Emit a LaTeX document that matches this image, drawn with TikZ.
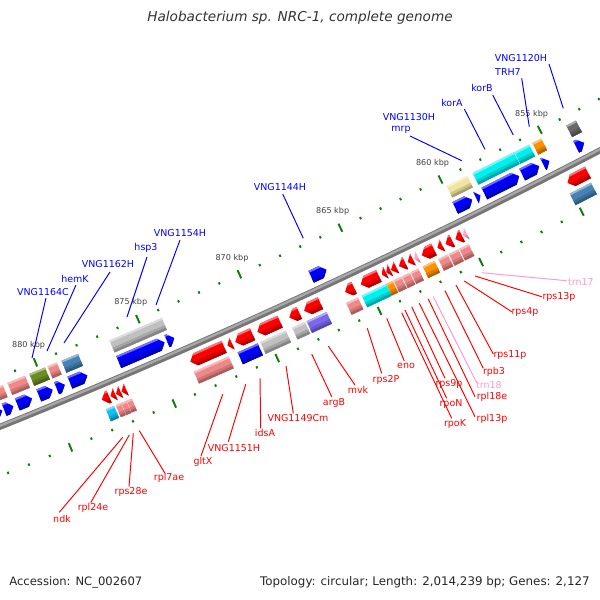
\documentclass[tikz,border=0pt]{standalone}
\usepackage{fontspec}
\setmainfont{DejaVu Sans}[ItalicFont={DejaVu Sans Oblique}]
\definecolor{gblue}{HTML}{0000FF}
\definecolor{gred}{HTML}{FF0000}
\definecolor{cogJ}{HTML}{F08888}
\definecolor{gcyan}{HTML}{00F0F0}
\definecolor{gorange}{HTML}{FF9000}
\definecolor{gsteel}{HTML}{4682B4}
\definecolor{golive}{HTML}{6B8E23}
\definecolor{glgray}{HTML}{C0C0C0}
\definecolor{gdgray}{HTML}{696969}
\definecolor{gkhaki}{HTML}{EEE6A0}
\definecolor{gpurple}{HTML}{7B68EE}
\definecolor{gdsky}{HTML}{10C0F0}
\definecolor{trnpink}{HTML}{FFA8C8}
\definecolor{labblue}{HTML}{0000FF}
\definecolor{labred}{HTML}{FF0000}
\definecolor{labpink}{HTML}{FF99CC}
\definecolor{tickc}{HTML}{107C10}
\definecolor{bbdark}{HTML}{767676}
\definecolor{bblight}{HTML}{A8A8A8}
\definecolor{kbpc}{HTML}{404040}

% place a feature: #1 x centre (image px), #2 offset from backbone (+ = lower right), #3 code
\newcommand\gplace[3]{%
  \pgfmathsetmacro\gR{6818+#2}%
  \pgfmathsetmacro\gA{-acos((#1+2546)/\gR)}%
  \begin{scope}[shift={(-2546,-5898)},rotate=\gA,shift={(\gR,0)},rotate=90]#3\end{scope}}
\newcommand\gpaint[2]{%
  \fill[#1] #2;
  \begin{scope}
    \clip #2;
    \fill[#1!55!white] (-200,-6.5) rectangle (200,-4.6);
    \fill[#1!86!black] (-200,1.2) rectangle (200,3.8);
    \fill[#1!70!black] (-200,3.8) rectangle (200,6.5);
  \end{scope}}
\newcommand\gbox[4]{\gplace{#1}{#2}{\pgfmathsetmacro\gH{#3/2}%
  \gpaint{#4}{(-\gH,-6.5) rectangle (\gH,6.5)}}}
\newcommand\gfwd[4]{\gplace{#1}{#2}{\pgfmathsetmacro\gH{#3/2}%
  \pgfmathsetmacro\gB{max(#3/2-6,-#3/2)}%
  \gpaint{#4}{(-\gH,-6.5) -- (\gB,-6.5) -- (\gH,0) -- (\gB,6.5) -- (-\gH,6.5) -- cycle}}}
\newcommand\grev[4]{\gplace{#1}{#2}{\pgfmathsetmacro\gH{#3/2}%
  \pgfmathsetmacro\gB{min(-#3/2+6,#3/2)}%
  \gpaint{#4}{(\gH,-6.5) -- (\gB,-6.5) -- (-\gH,0) -- (\gB,6.5) -- (\gH,6.5) -- cycle}}}

\tikzset{
  lb/.style={font=\fontsize{5.4pt}{6pt}\selectfont, text=labblue, inner sep=0pt},
  lr/.style={font=\fontsize{5.4pt}{6pt}\selectfont, text=labred, inner sep=0pt},
  lp/.style={font=\fontsize{5.4pt}{6pt}\selectfont, text=labpink, inner sep=0pt},
  ldb/.style={draw=labblue, line width=0.55pt},
  ldr/.style={draw=labred, line width=0.55pt},
  ldp/.style={draw=labpink, line width=0.55pt},
  kbp/.style={font=\fontsize{4.6pt}{5pt}\selectfont, text=kbpc, inner sep=0pt},
  tickmark/.style={draw=tickc, line width=1.1pt},
}

\begin{document}
\begin{tikzpicture}[x=0.02cm,y=-0.02cm]
\useasboundingbox (0,0) rectangle (600,600);
\fill[white] (0,0) rectangle (600,600);

\begin{scope}
\clip (0,0) rectangle (600,600);
% backbone
\draw[line width=3.5pt, bbdark] ([shift={(-2546,-5898)}]61.5:6818) arc[start angle=61.5, end angle=69, radius=6818];
\draw[line width=1.3pt, bblight] ([shift={(-2546,-5898)}]61.5:6817) arc[start angle=61.5, end angle=69, radius=6817];

% tick rows
\foreach \k in {845,...,890}{%
  \pgfmathsetmacro\ta{65.71+(\k-870)*0.188}%
  \pgfmathtruncatemacro\mj{(mod(\k,5)==0)?1:0}%
  \ifnum\mj=1 \def\tl{4.5}\else\def\tl{1.2}\fi
  \pgfmathsetmacro\ua{6772-\tl}\pgfmathsetmacro\ub{6772+\tl}%
  \pgfmathsetmacro\la{6864-\tl}\pgfmathsetmacro\lbb{6864+\tl}%
  \draw[tickmark] ([shift={(-2546,-5898)}]\ta:\ua) -- ([shift={(-2546,-5898)}]\ta:\ub);
  \draw[tickmark] ([shift={(-2546,-5898)}]\ta:\la) -- ([shift={(-2546,-5898)}]\ta:\lbb);
}
\foreach \k in {855,860,...,880}{%
  \pgfmathsetmacro\ta{65.71+(\k-870)*0.188}%
  \node[kbp] (kb\k) at ([shift={(-2546,-5898)}]\ta:6754) {\k\ kbp};
}

% upper arrow ring (forward, blue)
\gfwd{-4}{-14}{14}{gblue}
\gfwd{9}{-14}{10}{gblue}
\gfwd{25}{-14}{16}{gblue}
\gfwd{46}{-14}{15}{gblue}
\gfwd{61}{-14}{9}{gblue}
\gfwd{79}{-14}{19}{gblue}
\gfwd{142}{-14}{50}{gblue}
\gfwd{171}{-14}{8}{gblue}
\gfwd{319}{-14}{17}{gblue}
\gfwd{464}{-14}{19}{gblue}
\gfwd{478.5}{-14}{5}{gblue}
\gfwd{502}{-14}{39}{gblue}
\gfwd{531}{-14}{19}{gblue}
\gfwd{546.5}{-14}{7}{gblue}
\gfwd{580.5}{-14}{9}{gblue}

% upper COG ring
\gbox{-2}{-31}{16}{cogJ}
\gbox{19}{-31}{19}{cogJ}
\gbox{40}{-31}{17}{golive}
\gbox{55}{-31}{10}{cogJ}
\gbox{72.5}{-31}{18}{gsteel}
\gbox{138.5}{-31}{57}{glgray}
\gbox{460}{-31}{23}{gkhaki}
\gbox{496.5}{-31}{46}{gcyan}
\gbox{525}{-31}{16.5}{gcyan}
\gbox{540}{-31}{10}{gorange}
\gbox{574.5}{-31}{11}{gdgray}

% lower arrow ring (reverse, red)
\grev{105.7}{14}{8}{gred}
\grev{113}{14}{5}{gred}
\grev{118.5}{14}{5}{gred}
\grev{124}{14}{5}{gred}
\grev{207.5}{14}{37}{gred}
\grev{230}{14}{5}{gred}
\grev{244}{14}{19}{gred}
\grev{269}{14}{25}{gred}
\grev{294.5}{14}{11}{gred}
\grev{312.5}{14}{18}{gred}
\grev{349.7}{14}{10}{gred}
\grev{370}{14}{20}{gred}
\grev{384}{14}{4.5}{gred}
\grev{388.5}{14}{4.5}{gred}
\grev{394}{14}{6}{gred}
\grev{402.5}{14}{7}{gred}
\grev{410.5}{14}{6}{gred}
\grev{416.5}{14}{4}{trnpink}
\grev{428}{14}{13.6}{gred}
\grev{440}{14}{5.5}{gred}
\grev{449}{14}{7.4}{gred}
\grev{459}{14}{7.4}{gred}
\grev{465}{14}{4}{trnpink}
\grev{578}{14}{23}{gred}

% lower COG ring
\gbox{112.7}{31}{9}{gdsky}
\gbox{121}{31}{5.5}{cogJ}
\gbox{126.5}{31}{5.5}{cogJ}
\gbox{132}{31}{5.5}{cogJ}
\gbox{214}{31}{38}{cogJ}
\gbox{250.5}{31}{22}{gblue}
\gbox{276}{31}{28}{glgray}
\gbox{301.5}{31}{14}{glgray}
\gbox{319.5}{31}{22}{gpurple}
\gbox{355}{31}{13}{cogJ}
\gbox{377}{31}{27}{gcyan}
\gbox{392.5}{31}{7}{gorange}
\gbox{400.5}{31}{8.5}{cogJ}
\gbox{409}{31}{8.5}{cogJ}
\gbox{417.5}{31}{8.5}{cogJ}
\gbox{431.7}{31}{13}{gorange}
\gbox{446}{31}{10.4}{cogJ}
\gbox{456.5}{31}{10.4}{cogJ}
\gbox{467}{31}{10.4}{cogJ}
\gbox{583.5}{31}{24}{gsteel}
\end{scope}

% title and footer
\node[font=\fontsize{7.75pt}{9pt}\selectfont\itshape, text=black!80, inner sep=0pt] (title) at (300,18) {Halobacterium sp. NRC-1, complete genome};
\node[font=\fontsize{6.6pt}{8pt}\selectfont, text=black!85, inner sep=0pt, anchor=west] (acc) at (9,582) {Accession: NC\_002607};
\node[font=\fontsize{6.75pt}{8pt}\selectfont, text=black!85, inner sep=0pt, anchor=east] (topo) at (590,582) {Topology: circular; Length: 2,014,239 bp; Genes: 2,127};

% blue labels
\node[lb] (t1) at (43,292) {VNG1164C};
\node[lb] (t2) at (75,279) {hemK};
\node[lb] (t3) at (108,264) {VNG1162H};
\node[lb] (t4) at (146,248) {hsp3};
\node[lb] (t5) at (180,233) {VNG1154H};
\node[lb] (t6) at (280,187) {VNG1144H};
\node[lb] (t7) at (409,117) {VNG1130H};
\node[lb] (t7b) at (401,129.5) {mrp};
\node[lb] (t8) at (452,103) {korA};
\node[lb] (t9) at (482,88) {korB};
\node[lb] (t10) at (521,58) {VNG1120H};
\node[lb] (t11) at (508,72) {TRH7};

\coordinate (s1) at (46,298);   \coordinate (e1) at (32,358);
\coordinate (s2) at (76,285);   \coordinate (e2) at (47,351);
\coordinate (s3) at (110,272);  \coordinate (e3) at (64,343);
\coordinate (s4) at (147,257);  \coordinate (e4) at (127,317);
\coordinate (s5) at (180,240);  \coordinate (e5) at (156,305);
\coordinate (s6) at (282.7,194);\coordinate (e6) at (303.3,238.3);
\coordinate (s7) at (410,136);  \coordinate (e7) at (461.7,160.7);
\coordinate (s8) at (464.3,109);\coordinate (e8) at (485,149.3);
\coordinate (s9) at (492.7,95); \coordinate (e9) at (513.3,135);
\coordinate (s10) at (549,64);  \coordinate (e10) at (563.3,108.3);
\coordinate (s11) at (521.7,78.3); \coordinate (e11) at (529.3,126.7);
\foreach \i in {1,...,11} \draw[ldb] (s\i) -- (e\i);

% red labels
\node[lp] (r1) at (581,282) {trn17};
\node[lr] (r2) at (559,297) {rps13p};
\node[lr] (r3) at (525,312) {rps4p};
\node[lr] (r4) at (510,355) {rps11p};
\node[lr] (r5) at (494,372) {rpb3};
\node[lp] (r6) at (489,385) {trn18};
\node[lr] (r7) at (492,397) {rpl18e};
\node[lr] (r8) at (492,419) {rpl13p};
\node[lr] (r9) at (449,384) {rps9p};
\node[lr] (r10) at (451,404) {rpoN};
\node[lr] (r11) at (455,424) {rpoK};
\node[lr] (r12) at (406,366) {eno};
\node[lr] (r13) at (386,380) {rps2P};
\node[lr] (r14) at (358,390) {mvk};
\node[lr] (r15) at (334,403) {argB};
\node[lr] (r16) at (298,418) {VNG1149Cm};
\node[lr] (r17) at (265,433) {idsA};
\node[lr] (r18) at (234,448) {VNG1151H};
\node[lr] (r19) at (203,462) {gltX};
\node[lr] (r20) at (169,478) {rpl7ae};
\node[lr] (r21) at (131,492) {rps28e};
\node[lr] (r22) at (93,508) {rpl24e};
\node[lr] (r23) at (62,519) {ndk};

\coordinate (a1) at (481.7,272.7); \coordinate (b1) at (566.7,280.7);
\coordinate (a2) at (475,276);     \coordinate (b2) at (541.7,296.7);
\coordinate (a3) at (464.3,281);   \coordinate (b3) at (511.7,311.7);
\coordinate (a4) at (456,285);     \coordinate (b4) at (493.3,354);
\coordinate (a5) at (445,290.7);   \coordinate (b5) at (483.3,368.3);
\coordinate (a6) at (433.3,296.7); \coordinate (b6) at (476.7,382.7);
\coordinate (a7) at (428.3,299);   \coordinate (b7) at (475,396.7);
\coordinate (a8) at (419.3,303.3); \coordinate (b8) at (475,416.7);
\coordinate (a9) at (411.7,306.7); \coordinate (b9) at (445,378.3);
\coordinate (a10) at (405,310);    \coordinate (b10) at (446.7,398.3);
\coordinate (a11) at (401.7,312.7);\coordinate (b11) at (451.7,418.3);
\coordinate (a12) at (386.7,318.3);\coordinate (b12) at (404.3,361);
\coordinate (a13) at (367.3,328.3);\coordinate (b13) at (381.7,373.3);
\coordinate (a14) at (328.3,346);  \coordinate (b14) at (355,385);
\coordinate (a15) at (311.7,354);  \coordinate (b15) at (331.7,396.7);
\coordinate (a16) at (286,366);    \coordinate (b16) at (293.3,413.3);
\coordinate (a17) at (260,378);    \coordinate (b17) at (260.7,428.3);
\coordinate (a18) at (245.7,384.3);\coordinate (b18) at (228.3,441.7);
\coordinate (a19) at (222.7,394.3);\coordinate (b19) at (201,456);
\coordinate (a20) at (139.3,430.7);\coordinate (b20) at (165,473.3);
\coordinate (a21) at (133.3,433.3);\coordinate (b21) at (129,486.7);
\coordinate (a22) at (129.3,435);  \coordinate (b22) at (90.7,502.7);
\coordinate (a23) at (122.7,437.3);\coordinate (b23) at (59.3,512.3);
\foreach \i in {2,3,4,5,7,8,9,10,11,12,13,14,15,16,17,18,19,20,21,22,23} \draw[ldr] (a\i) -- (b\i);
\foreach \i in {1,6} \draw[ldp] (a\i) -- (b\i);
\end{tikzpicture}
\end{document}
